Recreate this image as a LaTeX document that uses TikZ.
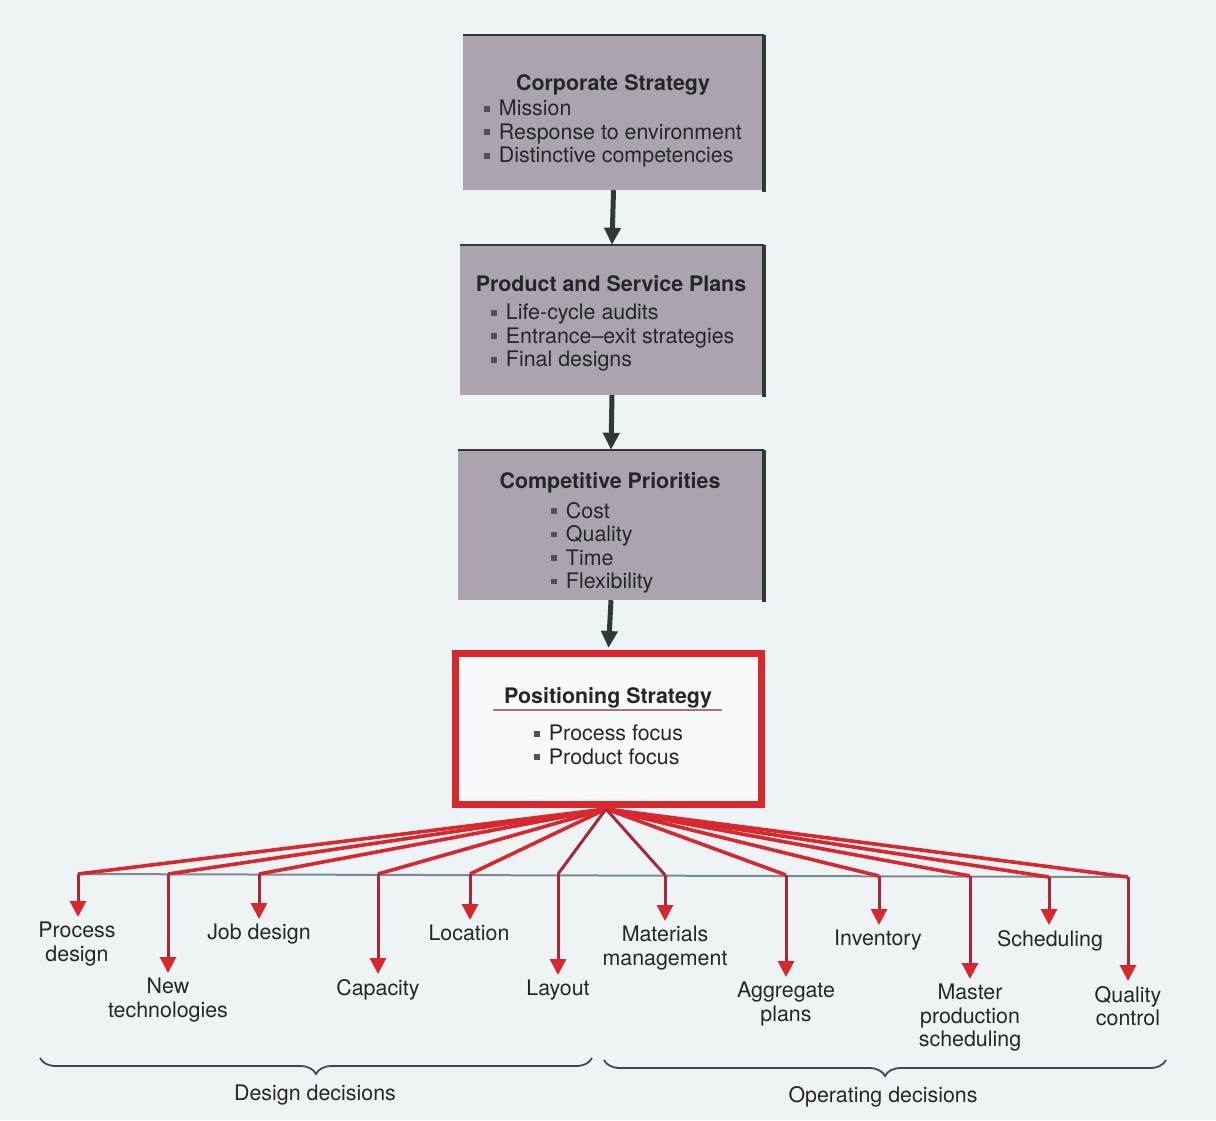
\documentclass[tikz,border=0pt]{standalone}
\usepackage{fontspec}
\setmainfont{TeX Gyre Heros}
\usetikzlibrary{arrows.meta,decorations.pathreplacing}

\definecolor{paper}{HTML}{EEF4F6}
\definecolor{boxfill}{HTML}{ABA4AE}
\definecolor{boxedge}{HTML}{2E3A3A}
\definecolor{ink}{HTML}{26262A}
\definecolor{fanred}{HTML}{D8282E}
\definecolor{stemred}{HTML}{A82838}
\definecolor{hrule}{HTML}{7A8C92}
\definecolor{accent}{HTML}{A8708A}
\definecolor{bracegray}{HTML}{404A4E}

% small square bullet used in the box lists
\newcommand{\sqbullet}{\textcolor{ink!80}{\raisebox{0.2em}{\rule{0.27em}{0.27em}}}\hspace{0.42em}}

\begin{document}
\begin{tikzpicture}[x=1pt,y=-1pt,
  font=\fontsize{21.4}{23.5}\selectfont,
  graybox/.style={fill=boxfill, inner sep=0pt},
  boxtop/.style={draw=boxedge, line width=2pt},
  boxside/.style={draw=boxedge, line width=4pt},
  redbox/.style={draw=fanred, line width=7pt, fill=white!55!paper, inner sep=0pt},
  title/.style={text=ink, font=\fontsize{21.4}{23.5}\selectfont\bfseries, anchor=base, inner sep=0pt},
  items/.style={text=ink, align=left, anchor=north west, inner sep=0pt},
  darrow/.style={draw=boxedge, line width=5pt, -{Triangle[width=16pt,length=17pt]}},
  fan/.style={draw=fanred, line width=3.6pt},
  fandark/.style={draw=stemred, line width=3pt},
  stem/.style={draw=stemred, line width=3pt, shorten >=5pt,
    -{Triangle[width=16pt,length=16pt,color=fanred]}},
  decision/.style={text=ink, align=center, anchor=north, inner sep=0pt},
  groupbrace/.style={draw=bracegray, line width=1.8pt, decorate,
    decoration={brace, mirror, amplitude=16pt}},
  grouplabel/.style={text=ink, anchor=center, inner sep=0pt}]

% page
\fill[paper] (0,0) rectangle (1216,1120);
\useasboundingbox (0,0) rectangle (1216,1120);

% ---- strategy boxes ----
\node[graybox, minimum width=301pt, minimum height=155pt] (corp) at (613.5,112.5) {};
\draw[boxtop] (corp.north west) -- (corp.north east);
\draw[boxside] (corp.north east) -- ([yshift=-2pt]corp.south east);
\node[title] (corpT) at (613,90) {Corporate Strategy};
\node[items] (corpL) at (484,100) {\sqbullet Mission\\ \sqbullet Response to environment\\ \sqbullet Distinctive competencies};

\node[graybox, minimum width=304pt, minimum height=150pt] (plans) at (612,320) {};
\draw[boxtop] (plans.north west) -- (plans.north east);
\draw[boxside] (plans.north east) -- ([yshift=-2pt]plans.south east);
\node[title] (plansT) at (611,291) {Product and Service Plans};
\node[items] (plansL) at (491,304) {\sqbullet Life-cycle audits\\ \sqbullet Entrance--exit strategies\\ \sqbullet Final designs};

\node[graybox, minimum width=306pt, minimum height=150pt] (prio) at (611,525) {};
\draw[boxtop] (prio.north west) -- (prio.north east);
\draw[boxside] (prio.north east) -- ([yshift=-2pt]prio.south east);
\node[title] (prioT) at (610,488) {Competitive Priorities};
\node[items] (prioL) at (551,502) {\sqbullet Cost\\ \sqbullet Quality\\ \sqbullet Time\\ \sqbullet Flexibility};

\node[redbox, minimum width=306pt, minimum height=151pt] (pos) at (608.5,729) {};
\node[title] (posT) at (608,703) {Positioning Strategy};
\draw[accent, line width=1.5pt] (493,710) -- (722,710);
\node[items] (posL) at (534,725) {\sqbullet Process focus\\ \sqbullet Product focus};

% ---- vertical flow ----
\draw[darrow] (corp.south) -- (plans.north);
\draw[darrow] (plans.south) -- (prio.north);
\draw[darrow] (prio.south) -- ([yshift=2pt]pos.north);

% ---- decision labels ----
\node[decision] (d1)  at (77,922)   {Process\\design};
\node[decision] (d2)  at (168,978)  {New\\technologies};
\node[decision] (d3)  at (259,924)  {Job design};
\node[decision] (d4)  at (378,979)  {Capacity};
\node[decision] (d5)  at (469,925)  {Location};
\node[decision] (d6)  at (558,980)  {Layout};
\node[decision] (d7)  at (665,926)  {Materials\\management};
\node[decision] (d8)  at (786,982)  {Aggregate\\plans};
\node[decision] (d9)  at (878,930)  {Inventory};
\node[decision] (d10) at (970,984)  {Master\\production\\scheduling};
\node[decision] (d11) at (1050,930) {Scheduling};
\node[decision] (d12) at (1128,986) {Quality\\control};

% ---- fan-out from the positioning strategy ----
\coordinate (hub) at (606,809);
\coordinate (j1)  at (78,874);
\coordinate (j2)  at (168,874);
\coordinate (j3)  at (259,874);
\coordinate (j4)  at (378,874);
\coordinate (j5)  at (470,874);
\coordinate (j6)  at (558,874);
\coordinate (j7)  at (665,875);
\coordinate (j8)  at (786,875);
\coordinate (j9)  at (879,876);
\coordinate (j10) at (970,876);
\coordinate (j11) at (1049,877);
\coordinate (j12) at (1128,877);

\draw[hrule, line width=2pt] (j1) -- (j12);

\foreach \j in {1,2,3,4,5,8,9,10,11,12} \draw[fan] (hub) -- (j\j);
\foreach \j in {6,7} \draw[fandark] (hub) -- (j\j);

\foreach \j in {1,...,12} \draw[stem] (j\j) -- (j\j |- d\j.north);

% ---- grouping braces ----
\coordinate (bL1) at (40,1058);
\coordinate (bR1) at (592,1058);
\coordinate (bL2) at (604,1060);
\coordinate (bR2) at (1166,1060);
\draw[groupbrace] (bL1) -- (bR1);
\draw[groupbrace] (bL2) -- (bR2);
\node[grouplabel] (g1) at (315,1095) {Design decisions};
\node[grouplabel] (g2) at (883,1097) {Operating decisions};

\end{tikzpicture}
\end{document}
